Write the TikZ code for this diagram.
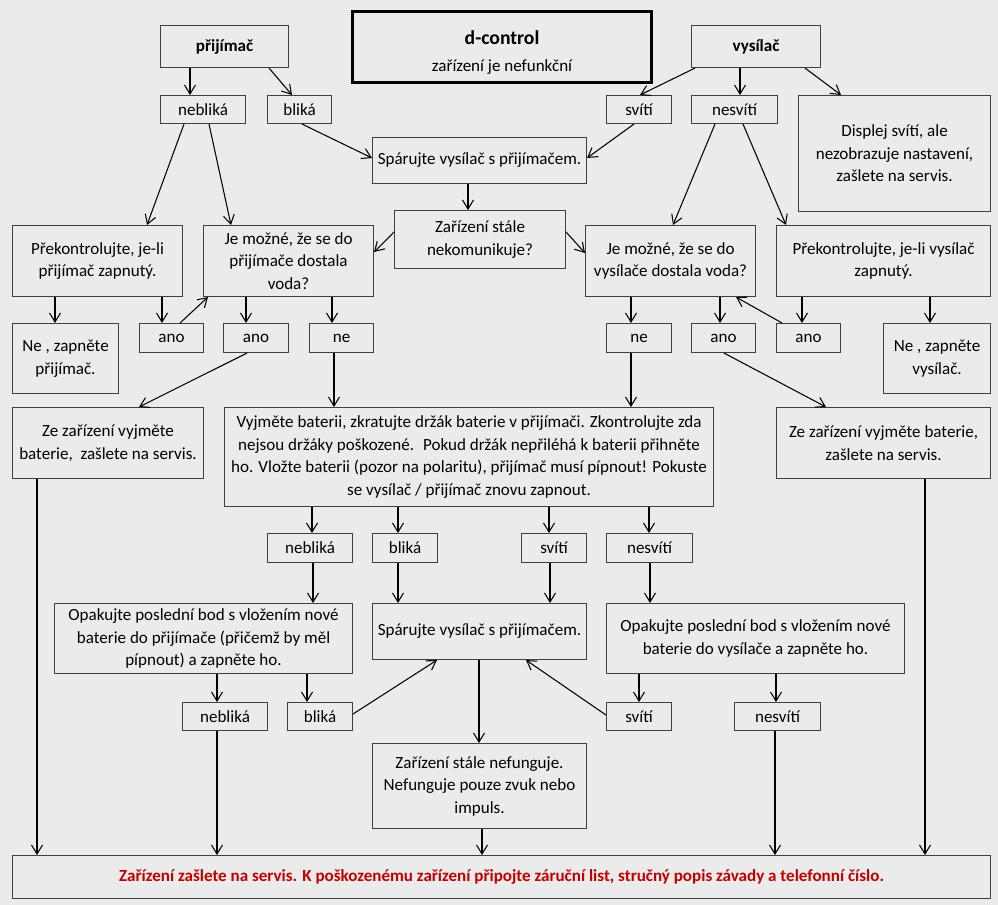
\documentclass[tikz,border=0pt]{standalone}
\usepackage{fontspec}
\setmainfont{Carlito}
\usetikzlibrary{arrows.meta}
\definecolor{bggray}{HTML}{EBEBEB}
\definecolor{linegray}{HTML}{404040}
\definecolor{darkred}{HTML}{C00000}
\begin{document}
\begin{tikzpicture}
[x=0.02cm, y=-0.02cm,
  box/.style={draw=linegray, line width=0.6pt, inner sep=1pt, align=center,
    anchor=north west, font=\fontsize{9.7}{12.8}\selectfont},%
  arr/.style={-{Straight Barb[length=1.8mm,width=2.2mm]}, line width=0.6pt}]
\fill[bggray] (0,0) rectangle (998,905);
\useasboundingbox (0,0) rectangle (998,905);
%% boxes: name / left / top / right / bottom / text
\foreach \n/\xa/\ya/\xb/\yb/\t in {
  prij/160/25/288/67/{\bfseries přijímač},
  vys/691/25/820/67/{\bfseries vysílač},
  neb1/160/95/245/123/nebliká, blik1/267/95/331/123/bliká,
  svit1/606/95/671/123/svítí, nesvit1/691/95/777/123/nesvítí,
  displej/798/95/990/211/{Displej svítí, ale\\nezobrazuje nastavení,\\zašlete na servis.},
  spar1/372/137/586/183/{Spárujte vysílač s přijímačem.},
  komun/394/210/565/268/{Zařízení stále\\nekomunikuje?},
  prekp/12/225/182/296/{Překontrolujte, je-li\\přijímač zapnutý.},
  vodap/203/225/373/296/{Je možné, že se do\\přijímače dostala\\voda?},
  vodav/585/225/755/296/{Je možné, že se do\\vysílače dostala voda?},
  prekv/776/225/990/296/{Překontrolujte, je-li vysílač\\zapnutý.},
  zapp/12/323/118/393/{Ne , zapněte\\přijímač.},
  anoA/139/323/203/352/ano, anoB/223/323/288/352/ano, neA/309/323/373/352/ne,
  neB/606/323/671/352/ne, anoC/691/323/755/352/ano, anoD/776/323/840/352/ano,
  zapv/883/323/990/393/{Ne , zapněte\\vysílač.},
  servp/12/407/203/478/{Ze zařízení vyjměte\\baterie,~ zašlete na servis.},
  bater/224/407/713/506/{Vyjměte baterii, zkratujte držák baterie v přijímači. Zkontrolujte zda\\nejsou držáky poškozené.~ Pokud držák nepřiléhá k baterii přihněte\\ho. Vložte baterii (pozor na polaritu), přijímač musí pípnout! Pokuste\\se vysílač {/} přijímač znovu zapnout.},
  servv/776/407/990/478/{Ze zařízení vyjměte baterie,\\zašlete na servis.},
  neb2/267/533/352/562/nebliká, blik2/372/533/437/562/bliká,
  svit2/521/533/586/562/svítí, nesvit2/606/533/692/562/nesvítí,
  opakp/54/603/352/673/{Opakujte poslední bod s vložením nové\\baterie do přijímače (přičemž by měl\\pípnout) a zapněte ho.},
  spar2/372/603/586/659/{Spárujte vysílač s přijímačem.},
  opakv/606/603/904/673/{Opakujte poslední bod s vložením nové\\baterie do vysílače a zapněte ho.},
  neb3/182/702/267/730/nebliká, blik3/287/702/352/730/bliká,
  svit3/606/702/671/730/svítí, nesvit3/734/702/820/730/nesvítí,
  nefung/372/743/586/828/{Zařízení stále nefunguje.\\Nefunguje pouze zvuk nebo\\impuls.},
  servis/12/855/990/898/{\color{darkred}\bfseries Zařízení zašlete na servis. K poškozenému zařízení připojte záruční list, stručný popis závady a telefonní číslo.}} {
  \node (\n) at (\xa,\ya) [box, minimum width={(\xb-\xa)*0.02cm},
    minimum height={(\yb-\ya)*0.02cm}] {\t};
}
\node (title) at (351,10) [box, draw=black, line width=1.8pt,
  minimum width=5.98cm, minimum height=1.42cm]
  {{\fontsize{11.2}{13}\selectfont\bfseries\rule{0pt}{14pt}d-control}\\[3pt]zařízení je nefunkční};
%% straight down
\foreach \a/\b/\x in {prij/neb1/190, vys/nesvit1/740, spar1/komun/468,
  prekp/zapp/55, prekp/anoA/162, vodap/anoB/246, vodap/neA/332,
  vodav/neB/631, vodav/anoC/720, prekv/anoD/802, prekv/zapv/930,
  neA/bater/334, neB/bater/631, bater/neb2/312, bater/blik2/398,
  bater/svit2/549, bater/nesvit2/649, neb2/opakp/313, blik2/spar2/398,
  svit2/spar2/550, nesvit2/opakv/650, opakp/neb3/217, opakp/blik3/307,
  opakv/svit3/639, opakv/nesvit3/776, spar2/nefung/479, nefung/servis/482,
  neb3/servis/217, nesvit3/servis/775, servp/servis/37, servv/servis/925} {
  \draw[arr] (\a.south -| \x,0) -- (\b.north -| \x,0);
}
%% slanted down
\foreach \a/\xa/\b/\xb in {prij/269/blik1/292, vys/695/svit1/640,
  vys/805/displej/841, nesvit1/715/vodav/673, nesvit1/743/prekv/786,
  neb1/184/prekp/147, neb1/209/vodap/231, anoB/247/servp/139,
  anoC/724/servv/826} {
  \draw[arr] (\a.south -| \xa,0) -- (\b.north -| \xb,0);
}
%% back up
\draw[arr] (anoA.north -| 180,0) -- (vodap.south -| 208,0);
\draw[arr] (anoD.north -| 782,0) -- (vodav.south -| 736,0);
%% into the sides
\draw[arr] (blik1.south -| 302,0) -- (spar1.west |- 0,158);
\draw[arr] (svit1.south -| 634,0) -- (spar1.east |- 0,158);
\draw[arr] (komun.west |- 0,232) -- (vodap.east |- 0,252);
\draw[arr] (komun.east |- 0,232) -- (vodav.west |- 0,253);
\draw[arr] (blik3.east |- 0,714) -- (spar2.south -| 437,0);
\draw[arr] (svit3.west |- 0,715) -- (spar2.south -| 526,0);
\end{tikzpicture}
\end{document}
